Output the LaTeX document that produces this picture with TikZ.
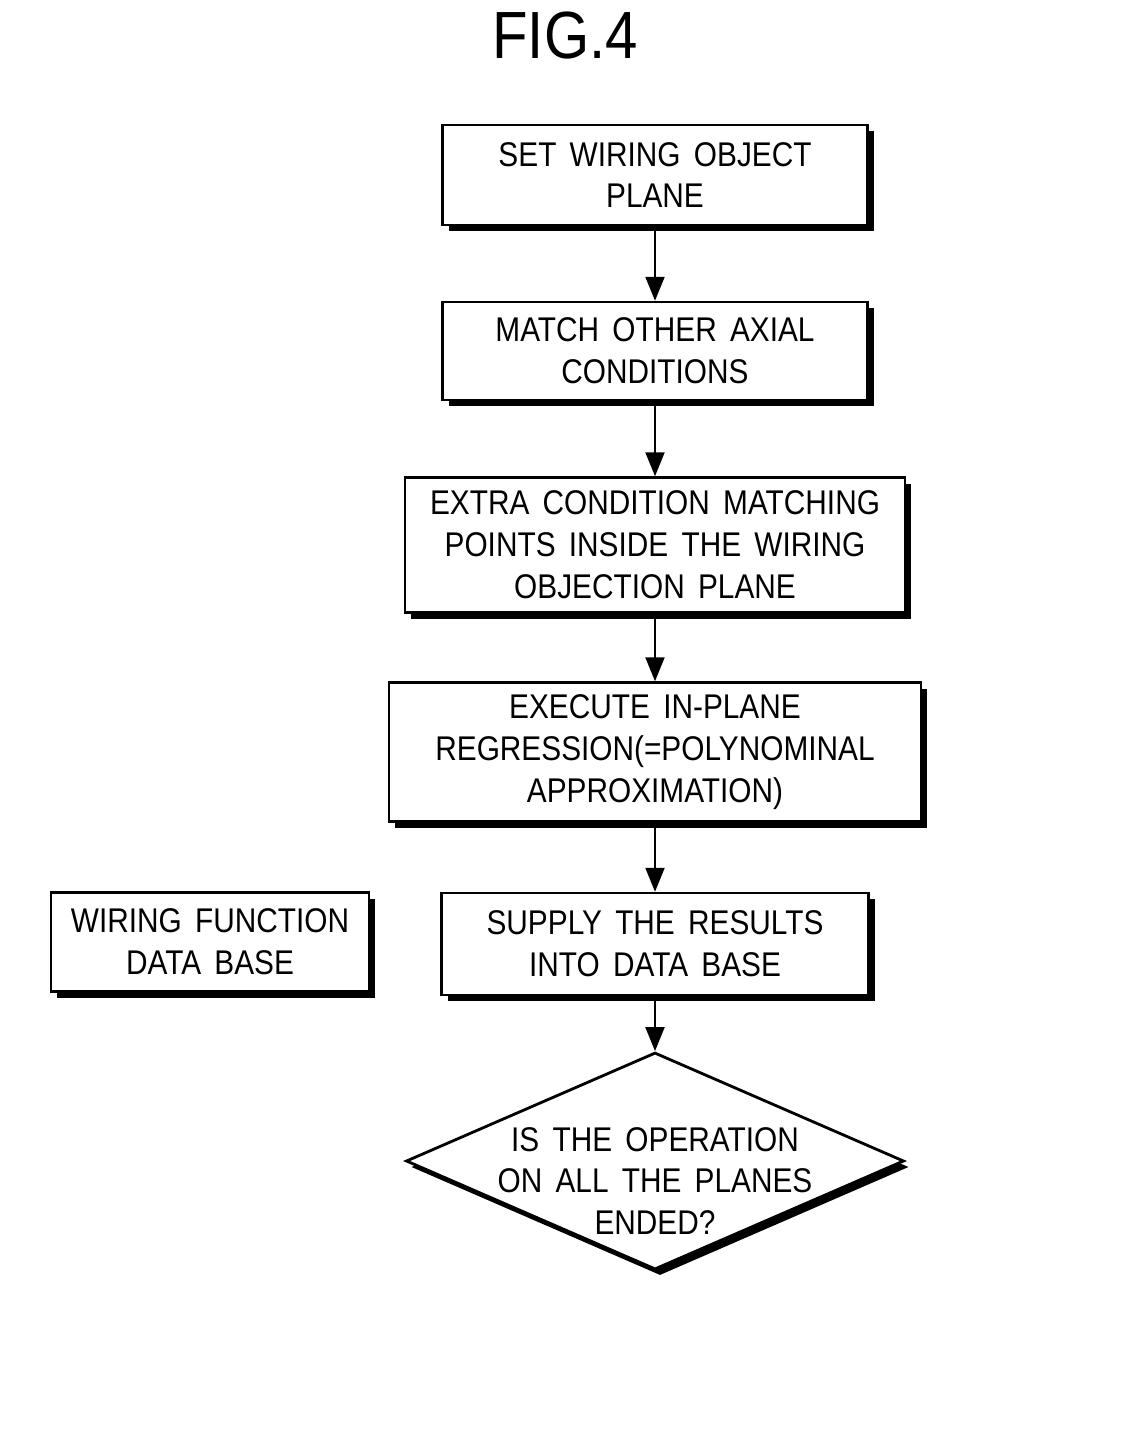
\documentclass[tikz,border=0pt]{standalone}
\usepackage{fontspec}
\newfontfamily\figfont[FakeStretch=0.87, WordSpace=1.6]{Liberation Sans}
\usetikzlibrary{shapes,arrows,positioning,calc,shadows,arrows.meta}

\begin{document}
\begin{tikzpicture}[node distance=4cm, auto,
    boxtext/.style={font=\figfont\fontsize{19.5}{23.8}\selectfont, align=center},
    stepbox/.style={boxtext, draw, line width=1.4pt, fill=white,
        drop shadow={fill=black, opacity=1, shadow xshift=0.12cm, shadow yshift=-0.12cm}},
    flow/.style={line width=1.2pt, -{Triangle[length=0.48cm, width=0.38cm]}}]
    \useasboundingbox (0,0) rectangle (22.56,-28.82);

    \node [font=\figfont\fontsize{38}{40}\selectfont] (fig) at (11.3,-0.72) {FIG.4};

    % main steps
    \node [stepbox, minimum width=8.5cm, minimum height=2cm] (setplane) at (13.1,-3.5) {SET WIRING OBJECT\\PLANE};
    \node [stepbox, minimum width=8.5cm, minimum height=1.96cm, below of=setplane, node distance=3.52cm] (match) {MATCH OTHER AXIAL\\CONDITIONS};
    \node [stepbox, minimum width=10cm, minimum height=2.7cm, below of=match, node distance=3.88cm] (extra) {EXTRA CONDITION MATCHING\\POINTS INSIDE THE WIRING\\OBJECTION PLANE};
    \node [stepbox, minimum width=10.64cm, minimum height=2.78cm, below of=extra, node distance=4.14cm] (regress) {EXECUTE IN-PLANE\\REGRESSION(=POLYNOMINAL\\APPROXIMATION)};
    \node [stepbox, minimum width=8.54cm, minimum height=2.04cm, below of=regress, node distance=3.84cm] (supply) {SUPPLY THE RESULTS\\INTO DATA BASE};
    \node [stepbox, minimum width=6.36cm, minimum height=1.98cm, left of=supply, node distance=8.9cm, yshift=0.04cm] (wiredb) {WIRING FUNCTION\\DATA BASE};

    % decision
    \node [draw, diamond, line width=1.6pt, fill=white, inner sep=0pt, minimum width=9.96cm, minimum height=4.34cm,
        drop shadow={fill=black, opacity=1, shadow xshift=0.1cm, shadow yshift=-0.12cm},
        below of=supply, node distance=4.34cm,
        label={[boxtext, yshift=-0.4cm]center:IS THE OPERATION\\ON ALL THE PLANES\\ENDED?}] (ended) {};

    % arrows
    \draw [flow] (setplane) -- (match);
    \draw [flow] (match) -- (extra);
    \draw [flow] (extra) -- (regress);
    \draw [flow] (regress) -- (supply);
    \draw [flow] (supply) -- (ended);
\end{tikzpicture}
\end{document}
